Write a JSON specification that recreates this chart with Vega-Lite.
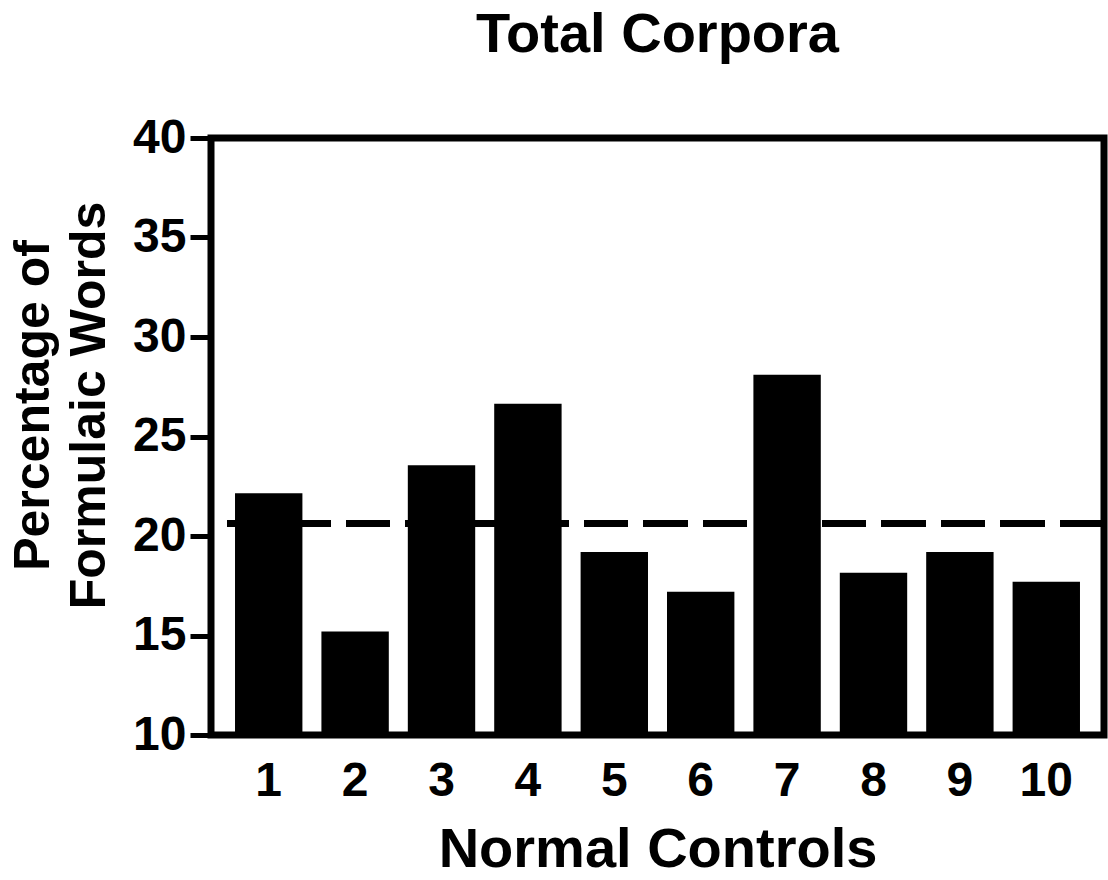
{
  "$schema": "https://vega.github.io/schema/vega-lite/v6.json",
  "autosize": {"type": "none"},
  "padding": {"left": 211, "top": 138, "right": 4, "bottom": 145},
  "width": 893,
  "height": 597,
  "background": "white",
  "config": {
    "view": {"stroke": "black", "strokeWidth": 7},
    "font": "Liberation Sans"
  },
  "title": {
    "text": "Total Corpora",
    "fontSize": 56,
    "fontWeight": "bold",
    "font": "Liberation Sans",
    "color": "black",
    "anchor": "middle",
    "offset": 50
  },
  "data": {
    "values": [
      {"control": "1", "pct": 22.15},
      {"control": "2", "pct": 15.2},
      {"control": "3", "pct": 23.55},
      {"control": "4", "pct": 26.65},
      {"control": "5", "pct": 19.2},
      {"control": "6", "pct": 17.2},
      {"control": "7", "pct": 28.1},
      {"control": "8", "pct": 18.15},
      {"control": "9", "pct": 19.2},
      {"control": "10", "pct": 17.7}
    ]
  },
  "layer": [
    {
      "mark": {"type": "bar", "color": "black"},
      "encoding": {
        "x": {
          "field": "control",
          "type": "ordinal",
          "sort": null,
          "scale": {"paddingInner": 0.22, "paddingOuter": 0.278},
          "axis": {
            "title": "Normal Controls",
            "titleFontSize": 56,
            "titleFontWeight": "bold",
            "titleColor": "black",
            "titlePadding": 17,
            "labelAngle": 0,
            "labelFontSize": 48,
            "labelFontWeight": "bold",
            "labelColor": "black",
            "labelPadding": 22,
            "ticks": false,
            "domain": false
          }
        },
        "y": {
          "field": "pct",
          "type": "quantitative",
          "scale": {"domain": [10, 40], "zero": false, "nice": false},
          "axis": {
            "title": ["Percentage of", "Formulaic Words"],
            "titleFontSize": 50,
            "titleFontWeight": "bold",
            "titleColor": "black",
            "titleLineHeight": 56,
            "titlePadding": 18,
            "titleY": 267,
            "values": [10, 15, 20, 25, 30, 35, 40],
            "labelFontSize": 48,
            "labelFontWeight": "bold",
            "labelColor": "black",
            "labelPadding": 4,
            "tickSize": 21,
            "tickWidth": 5,
            "tickColor": "black",
            "domain": false,
            "grid": false
          }
        },
        "y2": {"datum": 10}
      }
    },
    {
      "mark": {"type": "rule", "color": "black", "strokeWidth": 7, "strokeDash": [44, 15.5]},
      "encoding": {
        "y": {"datum": 20.63, "type": "quantitative"}
      }
    }
  ]
}
